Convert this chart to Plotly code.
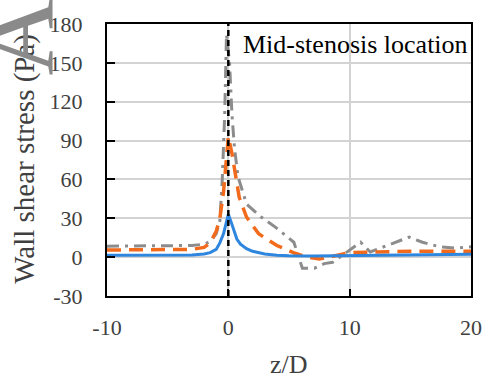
import plotly.graph_objects as go

# ---- data ----
blue_x = [-10, -5, -3, -2, -1.5, -1, -0.7, -0.4, -0.2, 0, 0.2, 0.4, 0.7, 1, 1.5, 2, 3, 4, 5, 7, 10, 15, 20]
blue_y = [1.5, 1.5, 1.7, 2.5, 3.5, 6, 11, 18, 26, 33, 28, 22, 14, 10, 6.5, 4.5, 2.5, 1.5, 1, 0.8, 1.2, 1.8, 2.2]

orange_x = [-10, -5, -3, -2, -1.5, -1, -0.7, -0.4, -0.2, 0, 0.3, 0.6, 0.9, 1.5, 2.5, 4, 5.5, 6.5, 7.5, 8.5, 10, 12, 15, 20]
orange_y = [5.5, 5.5, 6, 7.5, 11, 20, 30, 50, 70, 93, 80, 62, 46, 31, 18, 9, 3, 0, -1.5, 0.5, 3.5, 4, 4.5, 4.5]

gray_x = [-10, -5, -3, -2, -1.5, -1, -0.7, -0.5, -0.3, -0.15, 0.1, 0.3, 0.5, 0.8, 1.5, 2.7, 3.9, 5.4, 6.1, 7.1, 7.9, 8.6, 9.8, 10.9, 11.7, 12.8, 14.1, 14.9, 16, 17.4, 18.7, 20]
gray_y = [8.5, 8.5, 9, 10, 12, 18, 28, 60, 110, 172, 150, 110, 85, 62, 41, 31, 23, 11.5, -8.5, -8.5, -5, -4, 4, 11.5, 4, 8, 13, 15.5, 11.5, 8, 7, 8]

mid_x = 0
x_ticks = [-10, 0, 10, 20]
y_ticks = [-30, 0, 30, 60, 90, 120, 150, 180]

FONT = "'Liberation Serif', 'Times New Roman', serif"

fig = go.Figure()
fig.add_trace(go.Scatter(x=gray_x, y=gray_y, mode="lines",
                         line=dict(color="#8C8C8C", width=3, dash="12px,6px,3px,6px")))
fig.add_trace(go.Scatter(x=orange_x, y=orange_y, mode="lines",
                         line=dict(color="#F26A1B", width=3.5, dash="14px,8px")))
fig.add_trace(go.Scatter(x=blue_x, y=blue_y, mode="lines",
                         line=dict(color="#2E86DE", width=3)))

fig.add_shape(type="line", x0=mid_x, x1=mid_x, xref="x", y0=0, y1=1, yref="paper",
              line=dict(color="black", width=2.5, dash="6px,4px"))

fig.update_layout(
    width=494, height=378,
    margin=dict(l=107, r=14, t=22, b=82),
    paper_bgcolor="white", plot_bgcolor="white",
    showlegend=False,
    font=dict(family=FONT, color="#404040"),
)
fig.update_xaxes(
    range=[-10, 20], tickvals=x_ticks, ticktext=[str(v) for v in x_ticks],
    showgrid=True, gridcolor="#D3D3D3", gridwidth=1.5, zeroline=False,
    showline=True, linecolor="black", linewidth=2, mirror=True,
    ticks="inside", ticklen=7, tickcolor="black", tickwidth=2,
    tickfont=dict(family=FONT, size=22, color="#404040"), ticklabelstandoff=11,
)
fig.update_yaxes(
    range=[-30, 180], tickvals=y_ticks, ticktext=[str(v) for v in y_ticks],
    showgrid=True, gridcolor="#D3D3D3", gridwidth=1.5, zeroline=False,
    showline=True, linecolor="black", linewidth=2, mirror=True,
    ticks="inside", ticklen=8, tickcolor="black", tickwidth=2,
    tickfont=dict(family=FONT, size=22, color="#404040"), ticklabelstandoff=18,
)

fig.add_annotation(text="Mid-stenosis location", x=mid_x, xref="x", xanchor="left", xshift=13,
                   y=1, yref="paper", yanchor="top", yshift=-4, showarrow=False,
                   font=dict(family=FONT, size=26, color="black"))
fig.add_annotation(text="z/D", x=0.5, xref="paper", y=-0.25, yref="paper", yanchor="middle",
                   showarrow=False, font=dict(family=FONT, size=26, color="#404040"))
fig.add_annotation(text="Wall shear stress (Pa)", x=-0.225, xref="paper", xanchor="center",
                   y=0.505, yref="paper", yanchor="middle", showarrow=False, textangle=-90,
                   font=dict(family=FONT, size=29, color="#404040"))
fig.add_annotation(text="A", x=-0.248, xref="paper", xanchor="center",
                   y=0.953, yref="paper", yanchor="middle", showarrow=False,
                   textangle=-90, font=dict(family=FONT, size=108, color="#8A8A8A"))

fig.write_html("out.html")
